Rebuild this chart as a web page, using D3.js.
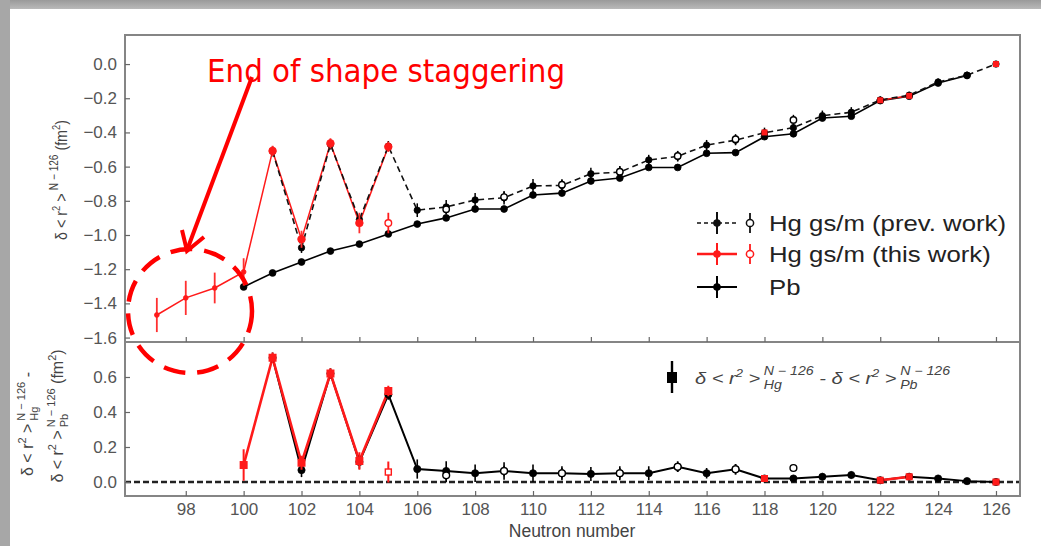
<!DOCTYPE html>
<html>
<head>
<meta charset="utf-8">
<script src="https://cdn.jsdelivr.net/npm/d3@7"></script>
<style>
  body { margin: 0; background: #fff; }
  svg { display: block; font-family: "Liberation Sans", Arial, Helvetica, sans-serif; }
</style>
</head>
<body>
<svg id="chart" width="1041" height="546"></svg>
<script>
// ---- values ----
// Pb, top panel
var pbN   = [100,101,102,103,104,105,106,107,108,109,110,111,112,113,114,115,116,117,118,119,120,121,122,123,124,125];
var pbR   = [-1.304,-1.222,-1.158,-1.094,-1.053,-0.994,-0.936,-0.900,-0.848,-0.848,-0.766,-0.755,-0.684,-0.667,-0.605,-0.605,-0.522,-0.518,-0.425,-0.408,-0.316,-0.305,-0.214,-0.188,-0.111,-0.067];
var pbErr = [0.012,0.012,0.012,0.012,0.012,0.012,0.012,0.012,0.012,0.012,0.012,0.012,0.012,0.012,0.010,0.010,0.010,0.010,0.010,0.010,0.010,0.010,0.010,0.010,0.010,0.010];

// Hg ground states, previous work (dashed)
var hgPrevN   = [101,102,103,104,105,106,107,108,109,110,111,112,113,114,115,116,117,118,119,120,121,122,123,124,125,126];
var hgPrevR   = [-0.510,-1.075,-0.470,-0.910,-0.480,-0.855,-0.836,-0.795,-0.782,-0.713,-0.710,-0.642,-0.632,-0.561,-0.540,-0.474,-0.445,-0.402,-0.372,-0.302,-0.282,-0.210,-0.182,-0.105,-0.065,0.0];
var hgPrevErr = [0.03,0.03,0.03,0.03,0.03,0.04,0.04,0.04,0.04,0.04,0.035,0.035,0.035,0.03,0.03,0.03,0.03,0.03,0.03,0.03,0.03,0.02,0.02,0.02,0.02,0.0];
// Hg isomers, previous work (open circles)
var hgIsoN   = [107,109,111,113,115,117,119];
var hgIsoR   = [-0.850,-0.778,-0.706,-0.630,-0.538,-0.440,-0.327];
var hgIsoErr = [0.03,0.03,0.03,0.03,0.03,0.03,0.03];

// Hg, this work (red)
var hgNewN   = [97,98,99,100,101,102,103,104,105,118,122,123,126];
var hgNewR   = [-1.468,-1.368,-1.310,-1.216,-0.508,-1.025,-0.464,-0.930,-0.484,-0.400,-0.212,-0.186,0.0];
var hgNewErr = [0.10,0.10,0.09,0.08,0.03,0.05,0.03,0.06,0.03,0.015,0.015,0.015,0.0];
var hgNewIsoN = [105];
var hgNewIsoR = [-0.930];
var hgNewIsoErr = [0.06];

// difference Hg - Pb, bottom panel
var diffPrevN   = [101,102,103,104,105,106,107,108,109,110,111,112,113,114,115,116,117,118,119,120,121,122,123,124,125,126];
var diffPrevR   = [0.710,0.068,0.620,0.115,0.500,0.074,0.063,0.050,0.063,0.050,0.050,0.046,0.050,0.050,0.087,0.050,0.073,0.020,0.020,0.030,0.040,0.010,0.030,0.020,0.005,0.0];
var diffPrevErr = [0.03,0.04,0.03,0.04,0.03,0.055,0.055,0.05,0.05,0.05,0.04,0.04,0.04,0.04,0.03,0.03,0.03,0.02,0.02,0.02,0.02,0.02,0.02,0.02,0.01,0.0];
var diffIsoN   = [107,109,111,113,115,117,119];
var diffIsoR   = [0.038,0.063,0.050,0.050,0.087,0.073,0.080];
var diffIsoErr = [0.04,0.03,0.03,0.03,0.03,0.03,0.02];
var diffNewN   = [100,101,102,103,104,105,118,122,123,126];
var diffNewR   = [0.097,0.710,0.110,0.620,0.120,0.520,0.020,0.010,0.030,0.0];
var diffNewErr = [0.09,0.03,0.04,0.03,0.05,0.03,0.01,0.01,0.01,0.0];
var diffNewIsoN = [105];
var diffNewIsoR = [0.057];
var diffNewIsoErr = [0.06];

// ticks and labels
var xTicks    = [98,100,102,104,106,108,110,112,114,116,118,120,122,124,126];
var yTopTicks = [0.0,-0.2,-0.4,-0.6,-0.8,-1.0,-1.2,-1.4,-1.6];
var yBotTicks = [0.0,0.2,0.4,0.6];
var legendLabels = ["Hg gs/m (prev. work)", "Hg gs/m (this work)", "Pb"];
var xLabel = "Neutron number";
var noteText = "End of shape staggering";

// ---- layout ----
var width = 1041, height = 546;
var left = 125, right = 1020, topY = 35, midY = 342, botY = 496;
var RED = "#ff1a1a", FRAME = "#858585", TICKTXT = "#555";

var x    = d3.scaleLinear().domain([95.9, 126.83]).range([left, right]);
var yTop = d3.scaleLinear().domain([0.17, -1.626]).range([topY, midY]);
var yBot = d3.scaleLinear().domain([0.8, -0.08]).range([midY, botY]);

var svg = d3.select("#chart");

// slide background (grey band top and left)
var defs = svg.append("defs");
var grad = defs.append("linearGradient").attr("id", "band").attr("x1", 0).attr("y1", 0).attr("x2", 0).attr("y2", 1);
grad.append("stop").attr("offset", "0%").attr("stop-color", "#9a9a9a");
grad.append("stop").attr("offset", "100%").attr("stop-color", "#b9b9b9");
svg.append("rect").attr("width", width).attr("height", height).attr("fill", "#fff");
svg.append("rect").attr("x", 0).attr("y", 0).attr("width", width).attr("height", 9).attr("fill", "url(#band)");
svg.append("rect").attr("x", 0).attr("y", 0).attr("width", 10).attr("height", height).attr("fill", "#a7a7a7");

function zip(ns, vs, es) {
  return ns.map(function(n, i) { return {n: n, v: vs[i], e: es ? es[i] : 0}; });
}
// split into runs of consecutive neutron numbers
function runs(pts) {
  var out = [], cur = [];
  pts.forEach(function(p) {
    if (cur.length && p.n - cur[cur.length - 1].n > 1) { out.push(cur); cur = []; }
    cur.push(p);
  });
  if (cur.length) out.push(cur);
  return out;
}

function drawLine(g, pts, y, color, w, dash) {
  var line = d3.line().x(function(d) { return x(d.n); }).y(function(d) { return y(d.v); });
  g.selectAll(null).data(runs(pts)).enter().append("path")
    .attr("d", line).attr("fill", "none")
    .attr("stroke", color).attr("stroke-width", w)
    .attr("stroke-dasharray", dash || null);
}
function drawErr(g, pts, y, color, w) {
  g.selectAll(null).data(pts.filter(function(d) { return d.e > 0; })).enter().append("line")
    .attr("x1", function(d) { return x(d.n); }).attr("x2", function(d) { return x(d.n); })
    .attr("y1", function(d) { return y(d.v - d.e); }).attr("y2", function(d) { return y(d.v + d.e); })
    .attr("stroke", color).attr("stroke-width", w);
}
function drawDots(g, pts, y, color, r, open) {
  g.selectAll(null).data(pts).enter().append("circle")
    .attr("cx", function(d) { return x(d.n); }).attr("cy", function(d) { return y(d.v); })
    .attr("r", r)
    .attr("fill", open ? "#fff" : color)
    .attr("stroke", color).attr("stroke-width", open ? 1.4 : 0.8);
}
function drawSquares(g, pts, y, color, s, open) {
  g.selectAll(null).data(pts).enter().append("rect")
    .attr("x", function(d) { return x(d.n) - s / 2; }).attr("y", function(d) { return y(d.v) - s / 2; })
    .attr("width", s).attr("height", s)
    .attr("fill", open ? "#fff" : color)
    .attr("stroke", color).attr("stroke-width", open ? 1.4 : 0);
}

// text with super/subscripts; s = baseline shift, z = size, stack = put under previous
function richText(parent, parts, size) {
  var text = parent.append("text").style("font-size", size + "px");
  var cur = 0, prevW = 0, pending = 0;
  parts.forEach(function(p) {
    var ts = text.append("tspan").text(p.t);
    var s = p.s || 0;
    ts.attr("dy", s - cur); cur = s;
    if (p.z) ts.style("font-size", p.z + "px");
    var w = ts.node().getComputedTextLength();
    var dx = p.dx || 0;
    if (p.stack) { dx -= prevW; pending = Math.max(0, prevW - w); }
    else { dx += pending; pending = 0; }
    if (dx) ts.attr("dx", dx);
    prevW = w;
  });
  return text;
}

// ---- top panel ----
var pbPts = zip(pbN, pbR, pbErr);
var prevPts = zip(hgPrevN, hgPrevR, hgPrevErr);
var isoPts = zip(hgIsoN, hgIsoR, hgIsoErr);
var newPts = zip(hgNewN, hgNewR, hgNewErr);
var newIsoPts = zip(hgNewIsoN, hgNewIsoR, hgNewIsoErr);

var topG = svg.append("g");
drawLine(topG, pbPts, yTop, "#000", 1.6);
drawLine(topG, newPts, yTop, RED, 1.5);
drawLine(topG, prevPts, yTop, "#111", 1.6, "6,4");
drawErr(topG, pbPts, yTop, "#000", 1.5);
drawErr(topG, prevPts, yTop, "#000", 1.5);
drawErr(topG, isoPts, yTop, "#000", 1.5);
drawDots(topG, pbPts, yTop, "#000", 3.4);
drawDots(topG, prevPts, yTop, "#000", 3.2);
drawDots(topG, isoPts, yTop, "#000", 3.2, true);
drawErr(topG, newPts, yTop, "#ff3030", 1.8);
drawErr(topG, newIsoPts, yTop, RED, 1.8);
drawDots(topG, newPts.filter(function(d) { return d.n < 101; }), yTop, RED, 2.4);
drawDots(topG, newPts.filter(function(d) { return d.n >= 101 && d.n <= 105; }), yTop, RED, 3.8);
drawSquares(topG, newPts.filter(function(d) { return d.n > 105; }), yTop, RED, 6);
drawDots(topG, newIsoPts, yTop, RED, 3.3, true);

// ---- bottom panel ----
var dPrev = zip(diffPrevN, diffPrevR, diffPrevErr);
var dIso = zip(diffIsoN, diffIsoR, diffIsoErr);
var dNew = zip(diffNewN, diffNewR, diffNewErr);
var dNewIso = zip(diffNewIsoN, diffNewIsoR, diffNewIsoErr);

var botG = svg.append("g");
botG.append("line")
  .attr("x1", left).attr("x2", right).attr("y1", yBot(0)).attr("y2", yBot(0))
  .attr("stroke", "#222").attr("stroke-width", 2.6).attr("stroke-dasharray", "6,3");
drawLine(botG, dPrev, yBot, "#000", 2);
drawLine(botG, dNew, yBot, RED, 2.6);
drawErr(botG, dPrev, yBot, "#000", 1.6);
drawErr(botG, dIso, yBot, "#000", 1.6);
drawDots(botG, dPrev, yBot, "#000", 3.6);
drawDots(botG, dIso, yBot, "#000", 3.4, true);
drawErr(botG, dNew, yBot, RED, 2);
drawErr(botG, dNewIso, yBot, RED, 2);
drawSquares(botG, dNew.filter(function(d) { return d.n <= 105; }), yBot, RED, 8);
drawSquares(botG, dNew.filter(function(d) { return d.n > 105; }), yBot, RED, 7);
drawSquares(botG, dNewIso, yBot, RED, 6, true);

// ---- frames and axes ----
svg.append("rect").attr("x", left).attr("y", topY).attr("width", right - left).attr("height", midY - topY)
  .attr("fill", "none").attr("stroke", FRAME).attr("stroke-width", 2);
svg.append("rect").attr("x", left).attr("y", midY).attr("width", right - left).attr("height", botY - midY)
  .attr("fill", "none").attr("stroke", FRAME).attr("stroke-width", 2);

function styleAxis(g) {
  g.select(".domain").remove();
  g.selectAll(".tick line").attr("stroke", "#666").attr("stroke-width", 1.2);
  g.selectAll(".tick text").attr("fill", TICKTXT).style("font-size", "17px")
    .style("font-family", '"Liberation Sans", Arial, sans-serif');
}
svg.append("g").attr("transform", "translate(" + left + ",0)")
  .call(d3.axisLeft(yTop).tickValues(yTopTicks).tickSize(-5).tickPadding(8).tickFormat(d3.format(".1f")))
  .call(styleAxis);
svg.append("g").attr("transform", "translate(" + left + ",0)")
  .call(d3.axisLeft(yBot).tickValues(yBotTicks).tickSize(-5).tickPadding(8).tickFormat(d3.format(".1f")))
  .call(styleAxis);
svg.append("g").attr("transform", "translate(0," + midY + ")")
  .call(d3.axisBottom(x).tickValues(xTicks).tickSize(-5).tickFormat(""))
  .call(styleAxis);
svg.append("g").attr("transform", "translate(0," + botY + ")")
  .call(d3.axisBottom(x).tickValues(xTicks).tickSize(-5).tickPadding(7).tickFormat(d3.format("d")))
  .call(styleAxis);

svg.append("text").attr("x", 572).attr("y", 537).attr("text-anchor", "middle")
  .attr("fill", "#444").style("font-size", "17.5px").text(xLabel);

// y axis titles
var yt = svg.append("g").attr("transform", "translate(67,180) rotate(-90) scale(0.84,1)").attr("fill", "#444");
richText(yt, [
  {t: "δ < r"}, {t: "2", s: -7, z: 11}, {t: " >", s: 0},
  {t: "N − 126", s: -9, z: 12, dx: 4}, {t: " (fm", s: 0}, {t: "2", s: -7, z: 11}, {t: ")", s: 0}
], 17).attr("text-anchor", "middle");

var yb1 = svg.append("g").attr("transform", "translate(33,424) rotate(-90)").attr("fill", "#444");
richText(yb1, [
  {t: "δ < r"}, {t: "2", s: -7, z: 11}, {t: " >", s: 0},
  {t: "N − 126", s: -8, z: 11, dx: 3}, {t: "Hg", s: 5, z: 11, stack: true}, {t: " -", s: 0}
], 16).attr("text-anchor", "middle");
var yb2 = svg.append("g").attr("transform", "translate(63,416) rotate(-90)").attr("fill", "#444");
richText(yb2, [
  {t: "δ < r"}, {t: "2", s: -7, z: 11}, {t: " >", s: 0},
  {t: "N − 126", s: -8, z: 11, dx: 3}, {t: "Pb", s: 5, z: 11, stack: true},
  {t: " (fm", s: 0}, {t: "2", s: -7, z: 11}, {t: ")", s: 0}
], 16).attr("text-anchor", "middle");

// ---- legends ----
var legRows = [223, 254, 287];
var legStyle = [
  {color: "#111", dash: "4,3", w: 1.6, open: true},
  {color: RED, dash: null, w: 2.6, open: true},
  {color: "#000", dash: null, w: 2.2, open: false}
];
var leg = svg.append("g");
legendLabels.forEach(function(lab, i) {
  var y = legRows[i], st = legStyle[i];
  leg.append("line").attr("x1", 697).attr("x2", 737).attr("y1", y).attr("y2", y)
    .attr("stroke", st.color).attr("stroke-width", st.w).attr("stroke-dasharray", st.dash);
  leg.append("line").attr("x1", 717).attr("x2", 717).attr("y1", y - 11).attr("y2", y + 11)
    .attr("stroke", st.color).attr("stroke-width", 2);
  leg.append("circle").attr("cx", 717).attr("cy", y).attr("r", 3.8).attr("fill", st.color);
  if (st.open) {
    leg.append("line").attr("x1", 750).attr("x2", 750).attr("y1", y - 10).attr("y2", y + 10)
      .attr("stroke", st.color).attr("stroke-width", 1.8);
    leg.append("circle").attr("cx", 750).attr("cy", y).attr("r", 3.6)
      .attr("fill", "#fff").attr("stroke", st.color).attr("stroke-width", 1.5);
  }
  leg.append("text").attr("transform", "translate(769," + y + ") scale(1.12,1)").attr("dy", "0.36em")
    .attr("fill", "#222").style("font-size", "23px").text(lab);
});

// bottom legend
var bl = svg.append("g");
bl.append("line").attr("x1", 672).attr("x2", 672).attr("y1", 361).attr("y2", 393)
  .attr("stroke", "#000").attr("stroke-width", 2.4);
bl.append("rect").attr("x", 667).attr("y", 372).attr("width", 10).attr("height", 11).attr("fill", "#000");
var blt = bl.append("g").attr("transform", "translate(695,384) scale(1.18,1)").attr("fill", "#444").style("font-style", "italic");
richText(blt, [
  {t: "δ < r"}, {t: "2", s: -7, z: 11}, {t: " >", s: 0},
  {t: "N − 126", s: -9, z: 12, dx: 3}, {t: "Hg", s: 5, z: 12, stack: true},
  {t: "   -   δ < r", s: 0}, {t: "2", s: -7, z: 11}, {t: " >", s: 0},
  {t: "N − 126", s: -9, z: 12, dx: 3}, {t: "Pb", s: 5, z: 12, stack: true}
], 17);

// ---- annotation ----
var ann = svg.append("g");
ann.append("text").attr("x", 207).attr("y", 82)
  .attr("textLength", 358).attr("lengthAdjust", "spacingAndGlyphs")
  .attr("fill", "#ff0000")
  .style("font-family", '"Comic Sans MS", "DejaVu Sans", sans-serif').style("font-size", "32px")
  .text(noteText);
ann.append("line").attr("x1", 252).attr("y1", 77).attr("x2", 187).attr("y2", 250)
  .attr("stroke", "#ff0000").attr("stroke-width", 4);
ann.append("polyline").attr("points", "182,230 187,251 204,237")
  .attr("fill", "none").attr("stroke", "#ff0000").attr("stroke-width", 4);
ann.append("circle").attr("cx", 190).attr("cy", 311).attr("r", 62)
  .attr("fill", "none").attr("stroke", "#ff0000").attr("stroke-width", 4.5)
  .attr("stroke-dasharray", "22,12");
</script>
</body>
</html>
